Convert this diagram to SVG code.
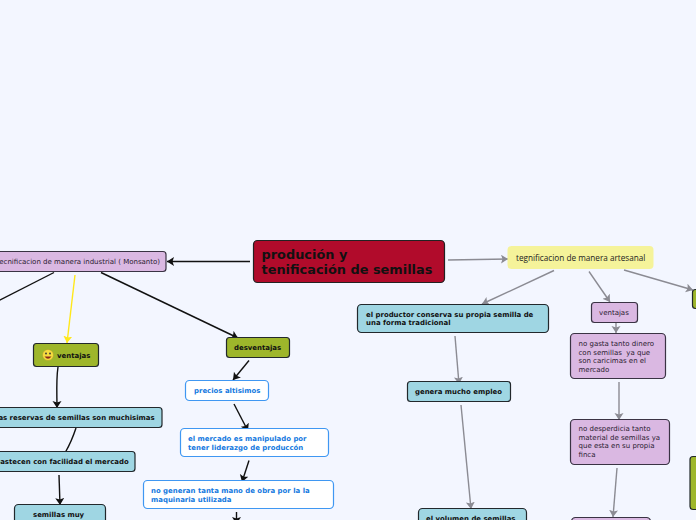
<svg xmlns="http://www.w3.org/2000/svg" width="696" height="520" viewBox="0 0 696 520">
<style>
text{font-family:"DejaVu Sans",sans-serif;font-size:7px;fill:#2a2030}
.b{font-weight:bold;font-size:6.950px;fill:#111}
.p{fill:#dab8e2;stroke:#3a3344;stroke-width:1.200}
.c{fill:#9fd6e3;stroke:#22282c;stroke-width:1.200}
.o{fill:#9eb62b;stroke:#22282c;stroke-width:1.200}
.w{fill:#fff;stroke:#3f97f2;stroke-width:1.200}
.w2{font-weight:bold;font-size:6.950px;fill:#1379e0}
.k{fill:none;stroke:#111;stroke-width:1.400}
.g{fill:none;stroke:#8b8b93;stroke-width:1.400}
.y{fill:none;stroke:#ffe81a;stroke-width:1.400}
</style>
<defs>
<marker id="ak" markerUnits="userSpaceOnUse" markerWidth="10" markerHeight="10" refX="7" refY="4.500" orient="auto"><path d="M0 0L7 4.500L0 9L1.500 4.500z" fill="#111"/></marker>
<marker id="ag" markerUnits="userSpaceOnUse" markerWidth="10" markerHeight="10" refX="7" refY="4.500" orient="auto"><path d="M0 0L7 4.500L0 9L1.500 4.500z" fill="#8b8b93"/></marker>
<marker id="ay" markerUnits="userSpaceOnUse" markerWidth="10" markerHeight="10" refX="7" refY="4.500" orient="auto"><path d="M0 0L7 4.500L0 9L1.500 4.500z" fill="#ffe81a"/></marker>
</defs>
<rect width="696" height="520" fill="#f3f6ff"/>
<g id="connectors">
<path class="k" marker-end="url(#ak)" d="M250 261.500H167"/>
<path class="k" d="M54 272.500L-2 301"/>
<path class="y" marker-end="url(#ay)" d="M75 275L67 343"/>
<path class="k" marker-end="url(#ak)" d="M101 272.500L238 338"/>
<path class="k" marker-end="url(#ak)" d="M249 360.500L233 380"/>
<path class="k" marker-end="url(#ak)" d="M58 367C56 380 57 395 57 408"/>
<path class="k" d="M76 428C72 440 69 446 65.500 452"/>
<path class="k" marker-end="url(#ak)" d="M59 475L60 505"/>
<path class="k" marker-end="url(#ak)" d="M234 404L248 431"/>
<path class="k" marker-end="url(#ak)" d="M249 460.500L242 482"/>
<path class="k" marker-end="url(#ak)" d="M236.500 512V524"/>
<path class="g" marker-end="url(#ag)" d="M448 260L508 259"/>
<path class="g" marker-end="url(#ag)" d="M554 270.500L482 304"/>
<path class="g" marker-end="url(#ag)" d="M589 271.500L610 302"/>
<path class="g" marker-end="url(#ag)" d="M624 270L693 290"/>
<path class="g" marker-end="url(#ag)" d="M455 336L459 384"/>
<path class="g" marker-end="url(#ag)" d="M461 405L471 509"/>
<path class="g" marker-end="url(#ag)" d="M616 323V333"/>
<path class="g" marker-end="url(#ag)" d="M619 382V420"/>
<path class="g" marker-end="url(#ag)" d="M617 468L613 517"/>
</g>
<g id="main"><rect x="253.500" y="240.500" width="191" height="42" rx="4" fill="#b10b2b" stroke="#222" stroke-width="1.200"/>
<text x="261.500" y="259" style="font-size:12.900px;font-weight:bold;fill:#111">produción y</text><text x="261.500" y="274" style="font-size:12.900px;font-weight:bold;fill:#111">tenificación de semillas</text></g>
<g id="industrial"><rect class="p" x="-30" y="251.500" width="196" height="20" rx="3"/><text x="-3.500" y="264">tecnificacion de manera industrial ( Monsanto)</text></g>
<g id="v1"><rect class="o" x="33.500" y="343.500" width="65" height="23" rx="3"/>
<circle cx="48" cy="355" r="5.500" fill="#f6dc3f" stroke="#a89a2b" stroke-width=".5"/><circle cx="46" cy="353.500" r=".9" fill="#333"/><circle cx="50" cy="353.500" r=".9" fill="#333"/><path d="M44.500 356.500Q48 361 51.500 356.500z" fill="#8b2a1a"/>
<text class="b" x="57" y="358">ventajas</text></g>
<g id="d1"><rect class="o" x="226.500" y="337.500" width="63" height="20" rx="3"/><text class="b" x="234" y="350">desventajas</text></g>
<g id="r1"><rect class="c" x="-30" y="407.500" width="192" height="20" rx="3"/><text class="b" x="-4" y="420">las reservas de semillas son muchisimas</text></g>
<g id="r2"><rect class="c" x="-30" y="451.500" width="165" height="20" rx="3"/><text class="b" x="-9.500" y="464">abastecen con facilidad el mercado</text></g>
<g id="r3"><rect class="c" x="14.500" y="504.500" width="91" height="30" rx="4"/><text class="b" x="33" y="517">semillas muy</text></g>
<g id="w1"><rect class="w" x="185.500" y="380.500" width="83" height="20" rx="4"/><text class="w2" x="194" y="393">precios altisimos</text></g>
<g id="w2"><rect class="w" x="180.500" y="428.500" width="148" height="28" rx="4"/><text class="w2" x="188" y="441">el mercado es manipulado por</text><text class="w2" x="188" y="450">tener liderazgo de produccón</text></g>
<g id="w3"><rect class="w" x="143.500" y="480.500" width="190" height="28" rx="4"/><text class="w2" x="151" y="493">no generan tanta mano de obra por la la</text><text class="w2" x="151" y="502">maquinaria utilizada</text></g>
<g id="artesanal"><rect x="507.500" y="246" width="146" height="23" rx="4" fill="#f5f39a"/><text x="516" y="260.500" style="font-family:'Open Sans',sans-serif;font-size:8.200px;fill:#222">tegnificacion de manera artesanal</text></g>
<g id="a1"><rect class="c" x="357.500" y="304.500" width="191" height="28" rx="4"/><text class="b" x="366" y="317">el productor conserva su propia semilla de</text><text class="b" x="366" y="325">una forma tradicional</text></g>
<g id="a2"><rect class="c" x="407.500" y="381.500" width="103" height="20" rx="3"/><text class="b" x="415" y="394">genera mucho empleo</text></g>
<g id="a3"><rect class="c" x="418.500" y="508.500" width="108" height="30" rx="4"/><text class="b" x="426" y="521">el volumen de semillas</text></g>
<g id="b1"><rect class="p" x="591.500" y="302.500" width="46" height="20" rx="3"/><text x="599" y="315">ventajas</text></g>
<g id="b2"><rect class="p" x="570.500" y="333.500" width="95" height="45" rx="4"/><text x="578.500" y="346">no gasta tanto dinero</text><text x="578.500" y="354.500" xml:space="preserve">con semillas  ya que</text><text x="578.500" y="363">son caricimas en el</text><text x="578.500" y="371.500">mercado</text></g>
<g id="b3"><rect class="p" x="570.500" y="419.500" width="99" height="45" rx="4"/><text x="578.500" y="431">no desperdicia tanto</text><text x="578.500" y="440">material de semillas ya</text><text x="578.500" y="448">que esta en su propia</text><text x="578.500" y="457">finca</text></g>
<g id="b4"><rect class="p" x="571.500" y="517.500" width="79" height="20" rx="4"/></g>
<g id="o1"><rect class="o" x="692.500" y="289.500" width="20" height="19" rx="3"/></g>
<g id="o2"><rect class="o" x="690" y="456.500" width="20" height="53" rx="3"/></g>
</svg>
